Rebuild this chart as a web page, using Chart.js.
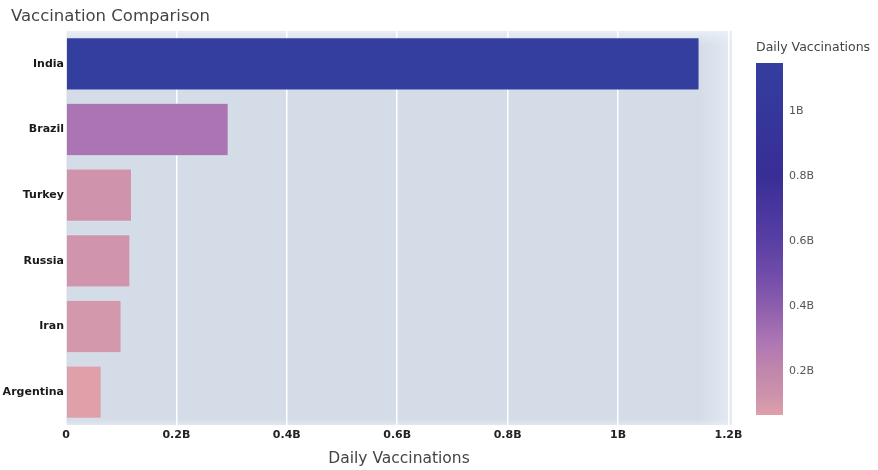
<!DOCTYPE html>
<html>
<head>
<meta charset="utf-8">
<title>Vaccination Comparison</title>
<script src="https://cdn.jsdelivr.net/npm/chart.js@4.4.1/dist/chart.umd.min.js"></script>
<style>
  html, body { margin: 0; padding: 0; background: #ffffff; }
  #wrap { position: relative; width: 878px; height: 470px; }
  #main { position: absolute; left: 0; top: 0; }
  #scale { position: absolute; left: 740px; top: 0; }
</style>
</head>
<body>
<div id="wrap">
  <canvas id="main" width="878" height="470"></canvas>
  <canvas id="scale" width="138" height="470"></canvas>
</div>
<script>
// Countries and their total vaccinations
const countries = ['India', 'Brazil', 'Turkey', 'Russia', 'Iran', 'Argentina'];
const dailyVaccinations = [1.147e9, 0.294e9, 0.119e9, 0.116e9, 0.100e9, 0.064e9];

// Value axis ticks
const xTickValues = [0, 0.2e9, 0.4e9, 0.6e9, 0.8e9, 1.0e9, 1.2e9];
const xTickLabels = ['0', '0.2B', '0.4B', '0.6B', '0.8B', '1B', '1.2B'];

// Colour bar ticks
const barTickValues = [0.2e9, 0.4e9, 0.6e9, 0.8e9, 1.0e9];
const barTickLabels = ['0.2B', '0.4B', '0.6B', '0.8B', '1B'];

// Sequential colour scale: pink (low) -> mauve -> purple -> deep blue (high)
const colorStops = [
  [0.00, [224, 160, 170]],
  [0.04, [210, 150, 172]],
  [0.06, [204, 146, 172]],
  [0.13, [192, 134, 172]],
  [0.21, [172, 118, 180]],
  [0.31, [140, 94, 172]],
  [0.40, [112, 76, 170]],
  [0.50, [88, 62, 163]],
  [0.68, [56, 46, 150]],
  [1.00, [52, 62, 158]]
];

function colorAt(t) {
  t = Math.max(0, Math.min(1, t));
  for (let i = 1; i < colorStops.length; i++) {
    const [t1, c1] = colorStops[i];
    const [t0, c0] = colorStops[i - 1];
    if (t <= t1) {
      const f = (t - t0) / (t1 - t0);
      const c = c0.map((v, k) => Math.round(v + (c1[k] - v) * f));
      return `rgb(${c[0]},${c[1]},${c[2]})`;
    }
  }
  const c = colorStops[colorStops.length - 1][1];
  return `rgb(${c[0]},${c[1]},${c[2]})`;
}

const vMin = Math.min(...dailyVaccinations);
const vMax = Math.max(...dailyVaccinations);
const barColors = dailyVaccinations.map(v => colorAt((v - vMin) / (vMax - vMin)));

const FONT = "'DejaVu Sans', Verdana, sans-serif";

// Plot area background with a soft light rim
const plotBackground = {
  id: 'plotBackground',
  beforeDraw(chart) {
    const { ctx, chartArea: a } = chart;
    ctx.save();
    ctx.fillStyle = '#d4dce8';
    ctx.fillRect(a.left, a.top, a.right - a.left, a.bottom - a.top);
    let g = ctx.createLinearGradient(0, a.top, 0, a.top + 14);
    g.addColorStop(0, 'rgba(234,239,246,0.95)');
    g.addColorStop(1, 'rgba(234,239,246,0)');
    ctx.fillStyle = g;
    ctx.fillRect(a.left, a.top, a.right - a.left, 14);
    g = ctx.createLinearGradient(a.right - 32, 0, a.right, 0);
    g.addColorStop(0, 'rgba(234,239,246,0)');
    g.addColorStop(1, 'rgba(234,239,246,0.75)');
    ctx.fillStyle = g;
    ctx.fillRect(a.right - 32, a.top, 32, a.bottom - a.top);
    g = ctx.createLinearGradient(0, a.bottom - 6, 0, a.bottom);
    g.addColorStop(0, 'rgba(234,239,246,0)');
    g.addColorStop(1, 'rgba(234,239,246,0.6)');
    ctx.fillStyle = g;
    ctx.fillRect(a.left, a.bottom - 6, a.right - a.left, 6);
    ctx.restore();
  }
};

// Chart heading in the top-left corner
const chartHeading = {
  id: 'chartHeading',
  afterDraw(chart) {
    const { ctx } = chart;
    ctx.save();
    ctx.fillStyle = '#444444';
    ctx.font = `16.5px ${FONT}`;
    ctx.textAlign = 'left';
    ctx.textBaseline = 'alphabetic';
    ctx.fillText('Vaccination Comparison', 11, 21);
    ctx.restore();
  }
};

new Chart(document.getElementById('main'), {
  type: 'bar',
  data: {
    labels: countries,
    datasets: [{
      label: 'Daily Vaccinations',
      data: dailyVaccinations,
      backgroundColor: barColors,
      borderColor: 'rgba(229,236,246,0.8)',
      borderWidth: 0.6,
      barPercentage: 0.8,
      categoryPercentage: 1.0
    }]
  },
  options: {
    indexAxis: 'y',
    responsive: false,
    animation: false,
    layout: { padding: { left: 0, right: 146, top: 31, bottom: 0 } },
    plugins: {
      legend: { display: false },
      tooltip: { enabled: false },
      title: { display: false }
    },
    scales: {
      x: {
        type: 'linear',
        min: 0,
        max: 1.2065e9,
        afterBuildTicks(scale) { scale.ticks = xTickValues.map(v => ({ value: v })); },
        afterFit(scale) { scale.height = 45; },
        ticks: {
          callback(value) {
            const i = xTickValues.indexOf(value);
            return i >= 0 ? xTickLabels[i] : '';
          },
          color: '#222222',
          font: { family: FONT, size: 11, weight: 'bold' },
          padding: 4,
          maxRotation: 0
        },
        grid: { color: '#ffffff', lineWidth: 1.5, drawTicks: false },
        border: { display: false },
        title: {
          display: true,
          text: 'Daily Vaccinations',
          color: '#444444',
          font: { family: FONT, size: 15.5, weight: 'normal' },
          padding: { top: 0, bottom: 2 }
        }
      },
      y: {
        afterFit(scale) { scale.width = 66; },
        ticks: {
          color: '#1a1a1a',
          font: { family: FONT, size: 11, weight: 'bold' },
          padding: 2
        },
        grid: { display: false, drawTicks: false },
        border: { display: false }
      }
    }
  },
  plugins: [plotBackground, chartHeading]
});

// Colour bar: one floating bar spanning the data range, filled with the scale
new Chart(document.getElementById('scale'), {
  type: 'bar',
  data: {
    labels: ['scale'],
    datasets: [{
      data: [[vMin, vMax]],
      backgroundColor(context) {
        const a = context.chart.chartArea;
        if (!a) return colorAt(0.5);
        const g = context.chart.ctx.createLinearGradient(0, a.bottom, 0, a.top);
        colorStops.forEach(([t]) => g.addColorStop(t, colorAt(t)));
        return g;
      },
      borderWidth: 0,
      barPercentage: 1.0,
      categoryPercentage: 1.0
    }]
  },
  options: {
    responsive: false,
    animation: false,
    layout: { padding: { left: 16, right: 0, top: 0, bottom: 55 } },
    plugins: {
      legend: { display: false },
      tooltip: { enabled: false },
      title: {
        display: true,
        text: 'Daily Vaccinations',
        align: 'start',
        color: '#444444',
        font: { family: FONT, size: 12.5, weight: 'normal' },
        padding: { top: 40, bottom: 8 }
      }
    },
    scales: {
      x: { display: false },
      y: {
        type: 'linear',
        position: 'right',
        min: vMin,
        max: vMax,
        afterBuildTicks(scale) { scale.ticks = barTickValues.map(v => ({ value: v })); },
        afterFit(scale) { scale.width = 95; },
        ticks: {
          callback(value) {
            const i = barTickValues.indexOf(value);
            return i >= 0 ? barTickLabels[i] : '';
          },
          color: '#555555',
          font: { family: FONT, size: 11, weight: 'normal' },
          padding: 6
        },
        grid: { display: false, drawTicks: false },
        border: { display: false }
      }
    }
  }
});
</script>
</body>
</html>
